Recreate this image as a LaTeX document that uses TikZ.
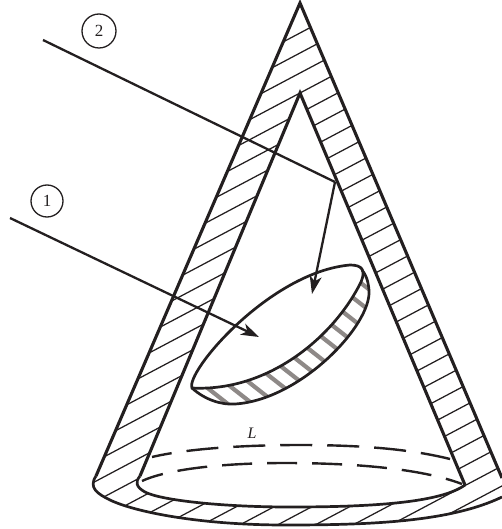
\documentclass[tikz,border=0pt]{standalone}
\usepackage{fontspec}
\setmainfont{Liberation Serif}
\usetikzlibrary{arrows.meta}
\definecolor{ink}{HTML}{231F20}
\definecolor{barcolor}{HTML}{8E8987}
\tikzset{
  wall/.style={line width=3.1pt,line join=miter,color=ink},
  rim/.style={line width=2.7pt,color=ink},
  hatchline/.style={line width=1.25pt,color=ink},
  greybar/.style={line width=4.2pt,color=barcolor},
  ray/.style={line width=2.3pt,color=ink},
  rayhead/.style={-{Stealth[length=18pt,width=12pt,inset=5pt]}},
  dashring/.style={line width=2.4pt,color=ink},
  tag/.style={circle,draw=ink,line width=1.3pt,minimum size=34pt,inner sep=0pt,font=\fontsize{17}{17}\selectfont,text=ink}
}
\begin{document}
\begin{tikzpicture}[x=1pt,y=-1pt]
\useasboundingbox (0,0) rectangle (502,529);
% hatching between the two cones
\begin{scope}[even odd rule]
\clip (300,3) -- (502,478) -- (502,497) .. controls (450,522) and (370,525) .. (285,525) .. controls (200,525) and (135,512) .. (110,500) .. controls (98,494) and (88,488) .. (96,476) -- cycle
 (300,93) -- (465,485) .. controls (440,503) and (370,507) .. (290,507) .. controls (220,507) and (160,500) .. (145,492) .. controls (136,487) and (135,482) .. (140,476) -- cycle;
\foreach \c in {192,212,...,792}
  \draw[hatchline] (60,{\c-0.53*60}) -- (510,{\c-0.53*510});
\end{scope}
% cone outlines
\draw[wall] (96,476) -- (300,3) -- (502,478);
\draw[wall] (140,476) -- (300,93) -- (465,485);
\draw[rim] (502,497) .. controls (450,522) and (370,525) .. (285,525) .. controls (200,525) and (135,512) .. (110,500) .. controls (98,494) and (88,488) .. (96,476);
\draw[rim] (465,485) .. controls (440,503) and (370,507) .. (290,507) .. controls (220,507) and (160,500) .. (145,492) .. controls (136,487) and (135,482) .. (140,476);
% dashed rings
\draw[dashring,dash pattern=on 32pt off 15pt,dash phase=12pt] (152,457) .. controls (190,448) and (250,445) .. (300,445) .. controls (360,445) and (410,449) .. (450,459);
\draw[dashring,dash pattern=on 30pt off 15pt,dash phase=8pt] (142,481) .. controls (170,468) and (230,463) .. (285,463) .. controls (350,463) and (420,468) .. (462,484);
\node[font=\itshape\fontsize{16}{16}\selectfont,text=ink] (ell) at (252,433) {L};
% disk side bars
\begin{scope}[even odd rule]
\clip (192,388) .. controls (205,400) and (222,405) .. (235,404) .. controls (300,400) and (372,325) .. (369,290) .. controls (368,280) and (366,275) .. (362,270) .. controls (366,270) and (366,272) .. (361,282) .. controls (335,335) and (270,392) .. (192,388) -- cycle;
\foreach \xm/\ym in {219/397,240/394,260/391,277/382,292/375,305/366,319/357,332/345,342/333,352/319,361/304,366/287}
  \draw[greybar] ({\xm-14},{\ym-11}) -- ({\xm+14},{\ym+11});
\end{scope}
% disk
\draw[rim] (192,388) .. controls (185,372) and (270,272) .. (350,265) .. controls (362,265) and (366,270) .. (361,282) .. controls (335,335) and (270,392) .. (192,388) -- cycle;
\draw[rim] (192,388) .. controls (205,400) and (222,405) .. (235,404) .. controls (300,400) and (372,325) .. (369,290) .. controls (368,280) and (366,275) .. (362,270);
% rays
\node[tag] (two) at (99,31) {2};
\node[tag,minimum size=32pt] (one) at (47,201) {1};
\coordinate (r2s) at (43,40);
\coordinate (r2k) at (335,182);
\coordinate (r2e) at (312,294);
\coordinate (r1s) at (10,218);
\coordinate (r1e) at (259,337);
\draw[ray] (r2s) -- (r2k);
\draw[ray,rayhead] (r2k) -- (r2e);
\draw[ray,rayhead] (r1s) -- (r1e);
\end{tikzpicture}
\end{document}
